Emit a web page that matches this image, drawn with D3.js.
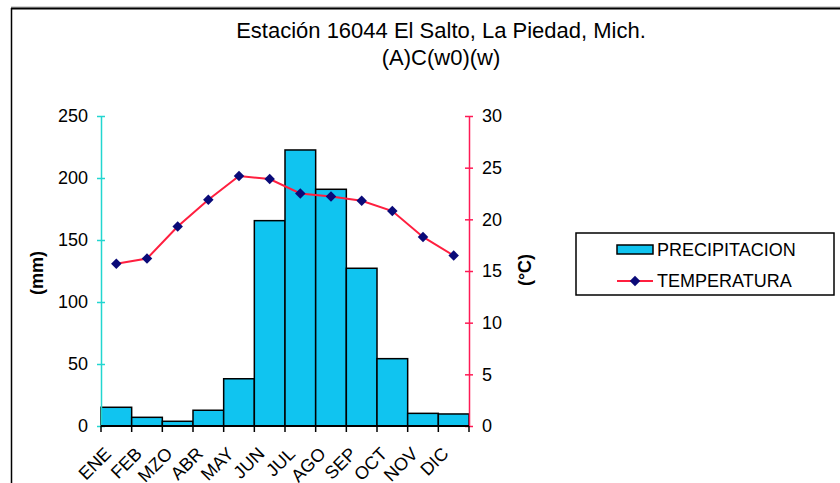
<!DOCTYPE html>
<html>
<head>
<meta charset="utf-8">
<script src="https://cdn.jsdelivr.net/npm/d3@7"></script>
<style>
  body { margin: 0; background: #fff; }
  svg { display: block; font-family: "Liberation Sans", Arial, sans-serif; }
</style>
</head>
<body>
<div id="chart"></div>
<script>
// Monthly data
const months = ["ENE", "FEB", "MZO", "ABR", "MAY", "JUN", "JUL", "AGO", "SEP", "OCT", "NOV", "DIC"];
const precipitacion = [15.1, 7.0, 3.8, 12.7, 38.1, 165.6, 222.6, 190.9, 127.2, 54.3, 10.2, 9.7];
const temperatura = [15.7, 16.2, 19.3, 21.9, 24.2, 23.9, 22.5, 22.2, 21.8, 20.8, 18.3, 16.5];
const mmTicks = [0, 50, 100, 150, 200, 250];
const tempTicks = [0, 5, 10, 15, 20, 25, 30];

const width = 840, height = 483;
const margin = { top: 116, right: 371, bottom: 57, left: 101 };
const innerWidth = width - margin.left - margin.right;
const innerHeight = height - margin.top - margin.bottom;

const barColor = "#10c4f0";
const lineColor = "#ff1f3f";
const leftAxisColor = "#22d6d0";
const rightAxisColor = "#ff1a55";
const markerColor = "#0a0a78";

const svg = d3.select("#chart")
    .append("svg")
    .attr("width", width)
    .attr("height", height);

// Page frame (top and left edges)
svg.append("line").attr("x1", 11).attr("x2", width).attr("y1", 7).attr("y2", 7)
    .attr("stroke", "#aaa").attr("stroke-width", 1);
svg.append("line").attr("x1", 11).attr("x2", width).attr("y1", 8.5).attr("y2", 8.5)
    .attr("stroke", "#000").attr("stroke-width", 2);
svg.append("line").attr("x1", 11.5).attr("x2", 11.5).attr("y1", 8).attr("y2", height)
    .attr("stroke", "#000").attr("stroke-width", 1.5);

// Title
svg.append("text")
    .attr("x", 441).attr("y", 38)
    .attr("text-anchor", "middle")
    .style("font-size", "22px")
    .text("Estación 16044 El Salto, La Piedad, Mich.");
svg.append("text")
    .attr("x", 441).attr("y", 65)
    .attr("text-anchor", "middle")
    .style("font-size", "22px")
    .text("(A)C(w0)(w)");

const chart = svg.append("g")
    .attr("transform", `translate(${margin.left},${margin.top})`);

// Scales
const xScale = d3.scaleBand().domain(months).range([0, innerWidth]).padding(0);
const yScale = d3.scaleLinear().domain([0, 250]).range([innerHeight, 0]);
const tScale = d3.scaleLinear().domain([0, 30]).range([innerHeight, 0]);

// Bars
chart.selectAll("rect.bar")
    .data(months)
    .join("rect")
    .attr("class", "bar")
    .attr("x", d => xScale(d))
    .attr("y", (d, i) => yScale(precipitacion[i]))
    .attr("width", xScale.bandwidth())
    .attr("height", (d, i) => innerHeight - yScale(precipitacion[i]))
    .attr("fill", barColor)
    .attr("stroke", "#000")
    .attr("stroke-width", 1.5);

// Left axis (mm)
const leftAxis = chart.append("g")
    .call(d3.axisLeft(yScale).tickValues(mmTicks).tickSize(0).tickPadding(13));
leftAxis.select(".domain").attr("stroke", leftAxisColor).attr("stroke-width", 1.5);
leftAxis.selectAll(".tick text").style("font-size", "18px").attr("fill", "#000");
leftAxis.selectAll(".tick").append("line")
    .attr("x1", -4).attr("x2", 4)
    .attr("stroke", leftAxisColor).attr("stroke-width", 1.5);

// Right axis (°C)
const rightAxis = chart.append("g")
    .attr("transform", `translate(${innerWidth},0)`)
    .call(d3.axisRight(tScale).tickValues(tempTicks).tickSize(0).tickPadding(13));
rightAxis.select(".domain").attr("stroke", rightAxisColor).attr("stroke-width", 1.5);
rightAxis.selectAll(".tick text").style("font-size", "18px").attr("fill", "#000");
rightAxis.selectAll(".tick").append("line")
    .attr("x1", -4).attr("x2", 4)
    .attr("stroke", rightAxisColor).attr("stroke-width", 1.5);

// Bottom axis with ticks at category boundaries
const xAxis = chart.append("g")
    .attr("transform", `translate(0,${innerHeight})`);
xAxis.append("line")
    .attr("x1", 0).attr("x2", innerWidth)
    .attr("stroke", "#000").attr("stroke-width", 2);
xAxis.selectAll("line.tick")
    .data(months.concat(["end"]))
    .join("line")
    .attr("class", "tick")
    .attr("x1", (d, i) => i * xScale.step())
    .attr("x2", (d, i) => i * xScale.step())
    .attr("y1", 0).attr("y2", 6)
    .attr("stroke", "#000").attr("stroke-width", 1.5);
xAxis.selectAll("text")
    .data(months)
    .join("text")
    .attr("transform", d => `translate(${xScale(d) + xScale.bandwidth() / 2 - 13},${20}) rotate(-45)`)
    .attr("text-anchor", "end")
    .attr("dy", "0.7em")
    .style("font-size", "18px")
    .text(d => d);

// Axis titles
svg.append("text")
    .attr("transform", "translate(43,273) rotate(-90)")
    .attr("text-anchor", "middle")
    .style("font-size", "18px")
    .style("font-weight", "bold")
    .text("(mm)");
svg.append("text")
    .attr("transform", "translate(531,270) rotate(-90)")
    .attr("text-anchor", "middle")
    .style("font-size", "18px")
    .style("font-weight", "bold")
    .text("(°C)");

// Temperature line
const line = d3.line()
    .x((d, i) => xScale(months[i]) + xScale.bandwidth() / 2)
    .y(d => tScale(d));
chart.append("path")
    .datum(temperatura)
    .attr("d", line)
    .attr("fill", "none")
    .attr("stroke", lineColor)
    .attr("stroke-width", 2);

const diamond = d3.symbol().type(d3.symbolDiamond2).size(70);
chart.selectAll("path.marker")
    .data(temperatura)
    .join("path")
    .attr("class", "marker")
    .attr("d", diamond)
    .attr("transform", (d, i) => `translate(${xScale(months[i]) + xScale.bandwidth() / 2},${tScale(d)})`)
    .attr("fill", markerColor);

// Legend
const legend = svg.append("g").attr("transform", "translate(576,233)");
legend.append("rect")
    .attr("width", 258).attr("height", 62)
    .attr("fill", "#fff").attr("stroke", "#000").attr("stroke-width", 1.5);
legend.append("rect")
    .attr("x", 41).attr("y", 12).attr("width", 36).attr("height", 9)
    .attr("fill", barColor).attr("stroke", "#000").attr("stroke-width", 1.5);
legend.append("text")
    .attr("x", 81).attr("y", 23)
    .style("font-size", "18px")
    .text("PRECIPITACION");
legend.append("line")
    .attr("x1", 41).attr("x2", 77).attr("y1", 48).attr("y2", 48)
    .attr("stroke", lineColor).attr("stroke-width", 2);
legend.append("path")
    .attr("d", diamond)
    .attr("transform", "translate(59,48)")
    .attr("fill", markerColor);
legend.append("text")
    .attr("x", 81).attr("y", 54)
    .style("font-size", "18px")
    .text("TEMPERATURA");
</script>
</body>
</html>
